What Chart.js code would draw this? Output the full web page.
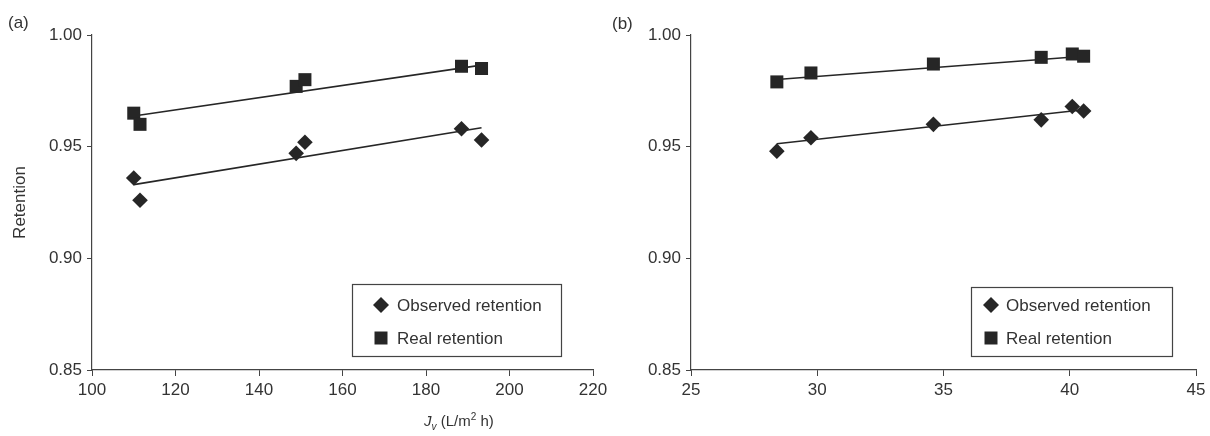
<!DOCTYPE html>
<html>
<head>
<meta charset="utf-8">
<script src="https://cdn.jsdelivr.net/npm/chart.js@4/dist/chart.umd.min.js"></script>
<style>
  body { margin: 0; background: #fff; }
  #wrap { position: relative; width: 1210px; height: 436px; font-family: "Liberation Sans", Arial, sans-serif; color: #333; }
  canvas { position: absolute; top: 0; }
  .tag { position: absolute; font-size: 17px; }
  #jv { position: absolute; left: 424px; top: 411px; font-size: 15px; white-space: nowrap; }
  #jv sub, #jv sup { font-size: 10px; }
</style>
</head>
<body>
<div id="wrap">
  <canvas id="panelA" width="640" height="436" style="left:0"></canvas>
  <canvas id="panelB" width="570" height="436" style="left:640px"></canvas>
  <div class="tag" style="left:8px;top:13px">(a)</div>
  <div class="tag" style="left:612px;top:14px">(b)</div>
  <div id="jv"><i>J</i><sub><i>v</i></sub> (L/m<sup>2</sup> h)</div>
</div>
<script>
// panel (a)
const jvA = [110, 111.5, 148.9, 151, 188.5, 193.3];
const observedA = [0.936, 0.926, 0.947, 0.952, 0.958, 0.953];
const realA = [0.965, 0.960, 0.977, 0.980, 0.986, 0.985];
const fitJvA = [110, 193.3];
const observedFitA = [0.933, 0.9585];
const realFitA = [0.9637, 0.9865];
const xTicksA = [100, 120, 140, 160, 180, 200, 220];

// panel (b)
const jvB = [28.4, 29.75, 34.6, 38.87, 40.1, 40.55];
const observedB = [0.948, 0.954, 0.960, 0.962, 0.968, 0.966];
const realB = [0.979, 0.983, 0.987, 0.990, 0.9915, 0.9905];
const fitJvB = [28.4, 40.55];
const observedFitB = [0.9513, 0.9665];
const realFitB = [0.9801, 0.9905];
const xTicksB = [25, 30, 35, 40, 45];

const yTicks = [0.85, 0.90, 0.95, 1.00];
const seriesLabels = ["Observed retention", "Real retention"];

const INK = "#262626";
const AXIS = "#444";
const FONT = "'Liberation Sans', Arial, sans-serif";

function toPoints(xs, ys) {
  return xs.map((x, i) => ({ x, y: ys[i] }));
}

// boxed legend sitting inside the plot area, bottom right
const legendBox = {
  id: "legendBox",
  afterDraw(chart, args, opts) {
    const { ctx, chartArea } = chart;
    const left = chartArea.right - opts.right - opts.width;
    const top = chartArea.bottom - opts.bottom - opts.height;

    ctx.save();
    ctx.fillStyle = "#fff";
    ctx.fillRect(left, top, opts.width, opts.height);
    ctx.strokeStyle = AXIS;
    ctx.lineWidth = 1.2;
    ctx.strokeRect(left + 0.5, top + 0.5, opts.width, opts.height);

    ctx.font = "17px " + FONT;
    ctx.textBaseline = "middle";
    seriesLabels.forEach((label, i) => {
      const cy = top + opts.rows[i];
      const cx = left + opts.symbolX;
      ctx.fillStyle = INK;
      ctx.beginPath();
      if (i === 0) {
        ctx.moveTo(cx, cy - 8);
        ctx.lineTo(cx + 8, cy);
        ctx.lineTo(cx, cy + 8);
        ctx.lineTo(cx - 8, cy);
        ctx.closePath();
      } else {
        ctx.rect(cx - 6.5, cy - 6.5, 13, 13);
      }
      ctx.fill();
      ctx.fillStyle = "#333";
      ctx.fillText(label, left + opts.textX, cy + 1);
    });
    ctx.restore();
  },
};

function retentionChart(id, panel) {
  const canvas = document.getElementById(id);

  const data = {
    datasets: [
      {
        data: toPoints(panel.jv, panel.observed),
        pointStyle: "rectRot",
        pointRadius: 7.8,
        backgroundColor: INK,
        borderWidth: 0,
        order: 1,
      },
      {
        data: toPoints(panel.jv, panel.real),
        pointStyle: "rect",
        pointRadius: 9.2,
        backgroundColor: INK,
        borderWidth: 0,
        order: 1,
      },
      {
        data: toPoints(panel.fitJv, panel.observedFit),
        showLine: true,
        pointRadius: 0,
        borderColor: INK,
        borderWidth: 1.6,
        order: 2,
      },
      {
        data: toPoints(panel.fitJv, panel.realFit),
        showLine: true,
        pointRadius: 0,
        borderColor: INK,
        borderWidth: 1.6,
        order: 2,
      },
    ],
  };

  const tickFont = { size: 17, family: FONT };

  const options = {
    responsive: false,
    animation: false,
    layout: {
      autoPadding: false,
      padding: { top: 35, right: panel.padRight, bottom: 0, left: 0 },
    },
    plugins: {
      legend: { display: false },
      tooltip: { enabled: false },
      legendBox: panel.legend,
    },
    scales: {
      x: {
        type: "linear",
        min: panel.xTicks[0],
        max: panel.xTicks[panel.xTicks.length - 1],
        afterFit: (scale) => {
          scale.height = 66;
          scale.paddingLeft = 0;
          scale.paddingRight = 0;
        },
        afterBuildTicks: (scale) => {
          scale.ticks = panel.xTicks.map((value) => ({ value }));
        },
        border: { color: AXIS, width: 1.2 },
        grid: { drawOnChartArea: false, tickLength: 6, color: AXIS },
        ticks: { color: "#333", font: tickFont, padding: 4, maxRotation: 0 },
      },
      y: {
        type: "linear",
        min: 0.85,
        max: 1.0,
        afterFit: (scale) => {
          scale.width = panel.axisWidth;
          scale.paddingTop = 0;
          scale.paddingBottom = 0;
        },
        afterBuildTicks: (scale) => {
          scale.ticks = yTicks.map((value) => ({ value }));
        },
        border: { color: AXIS, width: 1.2 },
        grid: { drawOnChartArea: false, tickLength: 5, color: AXIS },
        ticks: {
          color: "#333",
          font: tickFont,
          padding: 5,
          callback: (value) => value.toFixed(2),
        },
        title: {
          display: panel.showTitle,
          text: "Retention",
          color: "#333",
          font: { size: 17, family: FONT },
          padding: { top: 10, bottom: 0 },
        },
      },
    },
  };

  new Chart(canvas, { type: "scatter", data, options, plugins: [legendBox] });
}

retentionChart("panelA", {
  jv: jvA,
  observed: observedA,
  real: realA,
  fitJv: fitJvA,
  observedFit: observedFitA,
  realFit: realFitA,
  xTicks: xTicksA,
  axisWidth: 92,
  padRight: 47,
  showTitle: true,
  legend: { right: 32, bottom: 14, width: 209, height: 72, symbolX: 29, textX: 45, rows: [21, 54] },
});

retentionChart("panelB", {
  jv: jvB,
  observed: observedB,
  real: realB,
  fitJv: fitJvB,
  observedFit: observedFitB,
  realFit: realFitB,
  xTicks: xTicksB,
  axisWidth: 51,
  padRight: 14,
  showTitle: false,
  legend: { right: 24, bottom: 14, width: 201, height: 69, symbolX: 20, textX: 35, rows: [18, 51] },
});
</script>
</body>
</html>
